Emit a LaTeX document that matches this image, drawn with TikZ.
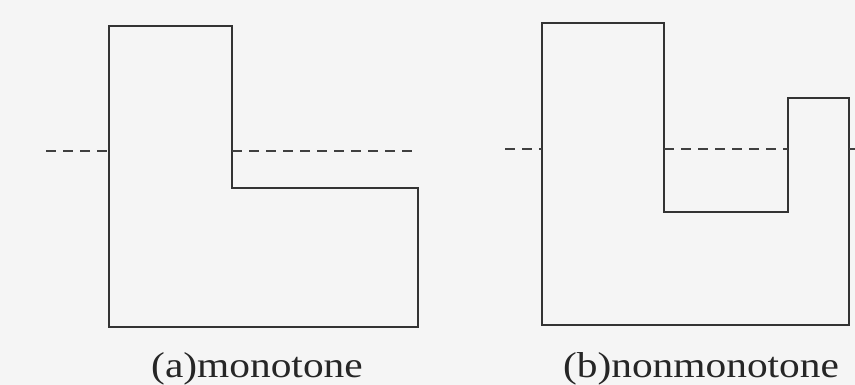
\documentclass[tikz,border=0pt]{standalone}
\usepackage{fontspec}
\setmainfont{Liberation Serif}

\begin{document}
\begin{tikzpicture}[
        x=1pt, y=-1pt,
        outline/.style={draw=black!80, line width=2pt, line join=miter},
        cutline/.style={draw=black!75, line width=2pt, dash pattern=on 10pt off 7pt},
        caption/.style={font=\fontsize{36}{40}\selectfont, anchor=base, inner sep=0pt, text=black!85}
    ]
    \fill[black!4] (0,0) rectangle (855,385);
    \useasboundingbox (0,0) rectangle (855,385);

    % (a) monotone polygon
    \draw[outline] (109,26) -- (232,26) -- (232,188) -- (418,188) -- (418,327) -- (109,327) -- cycle;
    \draw[cutline] (46,151) -- (109,151);
    \draw[cutline] (232,151) -- (418,151);
    \node[caption] (capA) at (257,377) {\scalebox{1.15}[1]{(a)monotone}};

    % (b) nonmonotone polygon
    \draw[outline] (542,23) -- (664,23) -- (664,212) -- (788,212) -- (788,98) -- (849,98) -- (849,325) -- (542,325) -- cycle;
    \draw[cutline] (505,149) -- (542,149);
    \draw[cutline] (664,149) -- (788,149);
    \draw[cutline] (849,149) -- (855,149);
    \node[caption] (capB) at (701,377) {\scalebox{1.15}[1]{(b)nonmonotone}};

\end{tikzpicture}
\end{document}
